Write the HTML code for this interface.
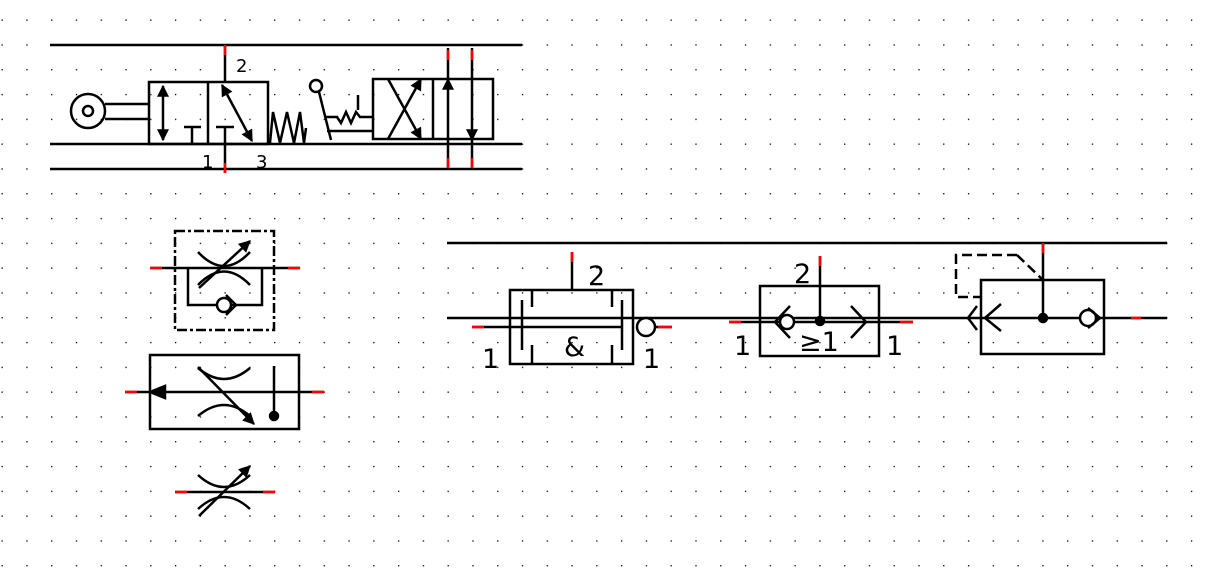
<!DOCTYPE html>
<html><head><meta charset="utf-8"><style>
html,body{margin:0;padding:0;background:#fff;}
svg{display:block;}
text{font-family:"DejaVu Sans","Liberation Sans",sans-serif;fill:#000;}
</style></head><body>
<svg width="1212" height="574" viewBox="0 0 1212 574" xmlns="http://www.w3.org/2000/svg">
<defs>
<pattern id="g" x="1.5" y="19.5" width="24.78" height="24.8" patternUnits="userSpaceOnUse">
<rect x="0" y="0" width="1.3" height="1.3" fill="#000"/>
</pattern>
<marker id="ah" viewBox="0 0 10 10" refX="9" refY="5" markerWidth="13" markerHeight="12" markerUnits="userSpaceOnUse" orient="auto-start-reverse">
<path d="M0,0 L10,5 L0,10 z" fill="#000"/>
</marker>
</defs>
<rect width="1212" height="574" fill="url(#g)"/>
<g stroke="#000" stroke-width="2.5" fill="none">
<!-- top section -->
<line x1="50" y1="45" x2="522" y2="45"/>
<line x1="50" y1="144" x2="522" y2="144"/>
<line x1="50" y1="169" x2="522" y2="169"/>
<circle cx="88" cy="111" r="17"/>
<circle cx="88" cy="111" r="5"/>
<line x1="105" y1="104" x2="149" y2="104"/>
<line x1="105" y1="119" x2="149" y2="119"/>
<rect x="149" y="82" width="119" height="62"/>
<line x1="208" y1="82" x2="208" y2="144"/>
<line x1="163" y1="86" x2="163" y2="140" marker-start="url(#ah)" marker-end="url(#ah)"/>
<line x1="192" y1="127" x2="192" y2="144"/><line x1="184" y1="127" x2="201" y2="127"/>
<line x1="225" y1="127" x2="225" y2="173"/><line x1="216" y1="127" x2="234" y2="127"/>
<line x1="225" y1="45" x2="225" y2="82"/>
<line x1="222" y1="85" x2="252" y2="141" marker-start="url(#ah)" marker-end="url(#ah)"/>
<polyline points="270,143 273,112 280,143 287,112 294,143 300,112 304,143 306,128"/>
<circle cx="316" cy="86" r="6"/>
<line x1="319" y1="92" x2="331" y2="140"/>
<polyline points="326,117 337,117 341,123 346,112 351,123 356,112 360,117 373,117"/>
<line x1="327" y1="131" x2="373" y2="131"/>
<line x1="358" y1="95" x2="358" y2="110"/>
<rect x="373" y="79" width="120" height="60"/>
<line x1="433" y1="79" x2="433" y2="139"/>
<line x1="388" y1="139" x2="421" y2="79" marker-end="url(#ah)"/>
<line x1="388" y1="79" x2="421" y2="139" marker-end="url(#ah)"/>
<line x1="448" y1="170" x2="448" y2="79" marker-end="url(#ah)"/>
<line x1="448" y1="48" x2="448" y2="80"/>
<line x1="472" y1="48" x2="472" y2="140" marker-end="url(#ah)"/>
<line x1="472" y1="139" x2="472" y2="170"/>

<!-- throttle 1 -->
<rect x="175" y="231" width="99" height="99" stroke-dasharray="10,3,3,3"/>
<line x1="150" y1="268" x2="300" y2="268"/>
<polyline points="188,268 188,305 262,305 262,268"/>
<circle cx="224" cy="305" r="7" fill="#fff"/>
<polyline points="226,295 236,305 226,315"/>
<path d="M198,252 Q224,280 250,252"/>
<path d="M198,285 Q224,258 250,285"/>
<line x1="199" y1="288" x2="250" y2="241" marker-end="url(#ah)"/>

<!-- throttle 2 -->
<rect x="150" y="355" width="149" height="74"/>
<line x1="125" y1="392" x2="324" y2="392"/>
<path d="M150,392 L165,386 L165,398 z" fill="#000"/>
<path d="M198,368 Q224,390 250,368"/>
<path d="M198,416 Q224,394 250,416"/>
<line x1="198" y1="367" x2="254" y2="424" marker-end="url(#ah)"/>
<line x1="274" y1="366" x2="274" y2="414"/>
<circle cx="274" cy="416" r="4" fill="#000"/>

<!-- throttle 3 -->
<line x1="175" y1="492" x2="275" y2="492"/>
<path d="M198,475 Q224,499 250,475"/>
<path d="M198,509 Q224,485 250,509"/>
<line x1="199" y1="516" x2="250" y2="466" marker-end="url(#ah)"/>

<!-- right section -->
<line x1="447" y1="243" x2="1167" y2="243"/>
<line x1="447" y1="318" x2="1167" y2="318"/>
<!-- AND -->
<rect x="510" y="290" width="123" height="74"/>
<line x1="472" y1="327" x2="622" y2="327"/>
<line x1="522" y1="300" x2="522" y2="350"/>
<line x1="622" y1="300" x2="622" y2="350"/>
<line x1="532" y1="290" x2="532" y2="307"/><line x1="532" y1="345" x2="532" y2="364"/>
<line x1="612" y1="290" x2="612" y2="307"/><line x1="612" y1="345" x2="612" y2="364"/>
<line x1="572" y1="252" x2="572" y2="290"/>
<circle cx="646" cy="327" r="9" fill="#fff"/>
<line x1="655" y1="327" x2="672" y2="327"/>
<!-- OR -->
<rect x="760" y="286" width="119" height="70"/>
<line x1="729" y1="322" x2="913" y2="322"/>
<line x1="820" y1="256" x2="820" y2="321"/>
<circle cx="820" cy="321" r="4" fill="#000"/>
<polyline points="790,306 775,322 790,338"/>
<circle cx="787" cy="322" r="7" fill="#fff"/>
<polyline points="851,306 866,322 851,338"/>
<!-- right element -->
<rect x="981" y="280" width="123" height="74"/>
<line x1="1043" y1="243" x2="1043" y2="318"/>
<circle cx="1043" cy="318" r="4" fill="#000"/>
<polyline points="1017,255 956,255 956,297 981,297" stroke-dasharray="10,5"/>
<line x1="1017" y1="255" x2="1043" y2="280" stroke-dasharray="10,5"/>
<polyline points="977,306 968,318 977,330"/>
<polyline points="1001,304 985,318 1001,331"/>
<circle cx="1088" cy="318" r="8" fill="#fff"/>
<polyline points="1088,308 1100,318 1088,328"/>
</g>
<!-- port color marks -->
<g stroke-width="2.5">
<line x1="225" y1="45" x2="225" y2="55" stroke="#f00"/>
<line x1="225" y1="163" x2="225" y2="173" stroke="#f00"/>
<line x1="448" y1="50" x2="448" y2="60" stroke="#f00"/><line x1="472" y1="50" x2="472" y2="60" stroke="#f00"/>
<line x1="448" y1="158" x2="448" y2="168" stroke="#f00"/><line x1="472" y1="158" x2="472" y2="168" stroke="#f00"/>
<line x1="150" y1="268" x2="162" y2="268" stroke="#f00"/><line x1="288" y1="268" x2="300" y2="268" stroke="#f00"/>
<line x1="125" y1="392" x2="137" y2="392" stroke="#f00"/><line x1="312" y1="392" x2="324" y2="392" stroke="#f00"/>
<line x1="175" y1="492" x2="187" y2="492" stroke="#f00"/><line x1="263" y1="492" x2="275" y2="492" stroke="#f00"/>
<line x1="472" y1="327" x2="484" y2="327" stroke="#f00"/><line x1="658" y1="327" x2="672" y2="327" stroke="#f00"/>
<line x1="572" y1="252" x2="572" y2="262" stroke="#f00"/>
<line x1="729" y1="322" x2="741" y2="322" stroke="#f00"/><line x1="900" y1="322" x2="913" y2="322" stroke="#f00"/>
<line x1="820" y1="256" x2="820" y2="266" stroke="#f00"/>
<line x1="1043" y1="243" x2="1043" y2="253" stroke="#f00"/>
<line x1="1131" y1="318" x2="1141" y2="318" stroke="#f00"/>
</g>
<text x="236" y="72" font-size="18">2</text>
<text x="202" y="168" font-size="18">1</text>
<text x="256" y="168" font-size="18">3</text>
<text x="588" y="285" font-size="27">2</text>
<text x="564" y="356" font-size="27">&amp;</text>
<text x="482" y="368" font-size="27">1</text>
<text x="643" y="368" font-size="27">1</text>
<text x="794" y="283" font-size="27">2</text>
<text x="799" y="351" font-size="27">≥1</text>
<text x="734" y="355" font-size="27">1</text>
<text x="886" y="355" font-size="27">1</text>
</svg>
</body></html>
